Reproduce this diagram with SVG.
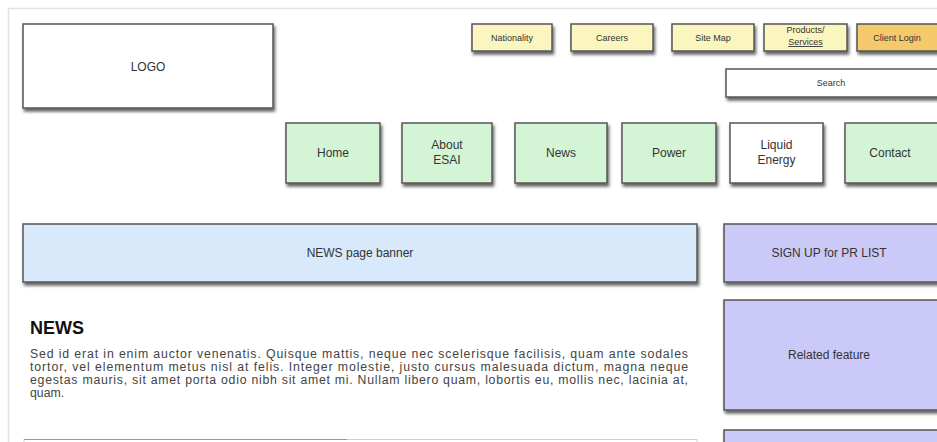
<svg xmlns="http://www.w3.org/2000/svg" width="937" height="442" viewBox="0 0 937 442">
<defs>
<filter id="sh" x="-10%" y="-20%" width="130%" height="160%">
<feDropShadow dx="1.5" dy="3" stdDeviation="1.8" flood-color="#000" flood-opacity="0.6"/>
</filter>
<style>
.b{stroke:#555;stroke-width:1.5;filter:url(#sh)}
.t{font-family:"Liberation Sans",Arial,sans-serif;fill:#333;text-anchor:middle}
.s{font-size:9px}
.m{font-size:12px}
.y{fill:#fbf6c0}
.g{fill:#d3f5d6}
.p{fill:#cbc9f8}
.w{fill:#fff}
.p1{font-family:"Liberation Sans",Arial,sans-serif;font-size:12.3px;fill:#444}
</style>
</defs>
<rect width="937" height="442" fill="#fff"/>
<path d="M8.5 442 V8.5 H937" fill="none" stroke="#e2e2e2" stroke-width="1.5"/>
<g id="logo"><rect class="b w" x="23" y="24" width="250" height="84"/><text class="t m" x="148" y="71">LOGO</text></g>
<g id="nationality"><rect class="b y" x="472" y="24" width="80" height="27"/><text class="t s" x="512" y="41">Nationality</text></g>
<g id="careers"><rect class="b y" x="571" y="24" width="82" height="27"/><text class="t s" x="612" y="41">Careers</text></g>
<g id="sitemap"><rect class="b y" x="672" y="24" width="82" height="27"/><text class="t s" x="713" y="41">Site Map</text></g>
<g id="products"><rect class="b y" x="764" y="24" width="83" height="27"/><text class="t s" x="805.500" y="33">Products/</text><text class="t s" x="805.500" y="45" text-decoration="underline">Services</text></g>
<g id="clientlogin"><rect class="b" fill="#f5c96c" x="857" y="24" width="82" height="27"/><text class="t s" x="897" y="41">Client Login</text></g>
<g id="search"><rect class="b w" x="726" y="69" width="213" height="28"/><text class="t s" x="831" y="86">Search</text></g>
<g id="home"><rect class="b g" x="286" y="123" width="94" height="60"/><text class="t m" x="333" y="157">Home</text></g>
<g id="about"><rect class="b g" x="402" y="123" width="90" height="60"/><text class="t m" x="447" y="149">About</text><text class="t m" x="447" y="164">ESAI</text></g>
<g id="news"><rect class="b g" x="515" y="123" width="92" height="60"/><text class="t m" x="561" y="157">News</text></g>
<g id="power"><rect class="b g" x="622" y="123" width="94" height="60"/><text class="t m" x="669" y="157">Power</text></g>
<g id="liquid"><rect class="b w" x="730" y="123" width="93" height="60"/><text class="t m" x="776.500" y="149">Liquid</text><text class="t m" x="776.500" y="164">Energy</text></g>
<g id="contact"><rect class="b g" x="845" y="123" width="94" height="60"/><text class="t m" x="890" y="157">Contact</text></g>
<g id="banner"><rect class="b" fill="#d8e9fb" x="23" y="224" width="674" height="58"/><text class="t m" x="360" y="257">NEWS page banner</text></g>
<g id="signup"><rect class="b p" x="724" y="224" width="215" height="58"/><text class="t m" x="829" y="257">SIGN UP for PR LIST</text></g>
<g id="related"><rect class="b p" x="724" y="300" width="215" height="110"/><text class="t m" x="829" y="359">Related feature</text></g>
<g id="purple3"><rect class="b p" x="724" y="430" width="215" height="30"/></g>
<g id="content">
<text x="30" y="334" font-family="Liberation Sans,Arial,sans-serif" font-size="18" font-weight="bold" fill="#111">NEWS</text>
<text class="p1" x="30" y="358" textLength="658" lengthAdjust="spacing">Sed id erat in enim auctor venenatis. Quisque mattis, neque nec scelerisque facilisis, quam ante sodales</text>
<text class="p1" x="30" y="371" textLength="658" lengthAdjust="spacing">tortor, vel elementum metus nisl at felis. Integer molestie, justo cursus malesuada dictum, magna neque</text>
<text class="p1" x="30" y="384" textLength="658" lengthAdjust="spacing">egestas mauris, sit amet porta odio nibh sit amet mi. Nullam libero quam, lobortis eu, mollis nec, lacinia at,</text>
<text class="p1" x="30" y="397">quam.</text>
</g>
<g id="bottombox"><rect x="24" y="439.500" width="673" height="10" fill="#fff" stroke="#d0d0d0"/><line x1="24" y1="439.500" x2="347" y2="439.500" stroke="#999" stroke-width="1.2"/></g>
</svg>
